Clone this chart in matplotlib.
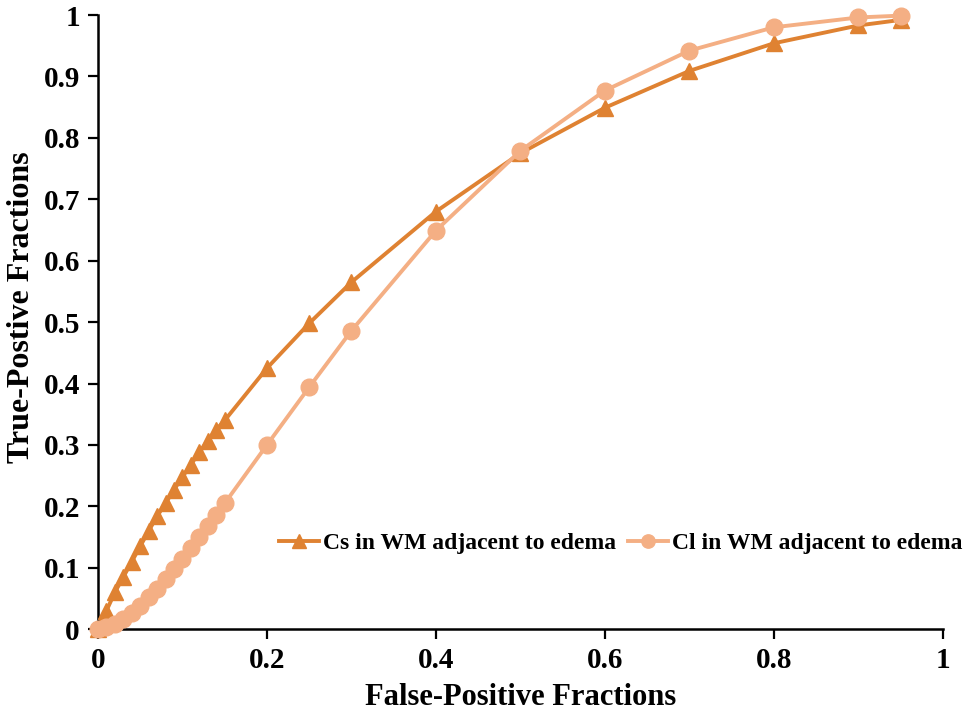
import numpy as np
import matplotlib.pyplot as plt

plt.rcParams['font.family'] = ['Liberation Serif', 'DejaVu Serif']
plt.rcParams['font.weight'] = 'bold'

# false-positive fractions (same for both curves)
fpf = [0, 0.01, 0.02, 0.03, 0.04, 0.05, 0.06, 0.07, 0.08, 0.09, 0.10,
       0.11, 0.12, 0.13, 0.14, 0.15, 0.2, 0.25, 0.3, 0.4, 0.5, 0.6,
       0.7, 0.8, 0.9, 0.95]

# true-positive fractions
tpf_cs = [0, 0.03, 0.06, 0.085, 0.11, 0.135, 0.16, 0.184, 0.205, 0.227, 0.248,
          0.268, 0.288, 0.307, 0.325, 0.340, 0.425, 0.498, 0.565, 0.680, 0.775, 0.849,
          0.909, 0.954, 0.983, 0.992]
tpf_cl = [0, 0.003, 0.008, 0.016, 0.026, 0.038, 0.052, 0.066, 0.082, 0.098, 0.115,
          0.132, 0.150, 0.168, 0.186, 0.205, 0.300, 0.394, 0.486, 0.649, 0.779, 0.877,
          0.942, 0.980, 0.996, 0.999]

lab_cs = 'Cs in WM adjacent to edema'
lab_cl = 'Cl in WM adjacent to edema'

fig = plt.figure(figsize=(9.7, 7.15), dpi=100)
ax = fig.add_axes([0.101, 0.120, 0.871, 0.859])

ax.plot(fpf, tpf_cs, color='#DF8232', lw=2.8, marker='^', ms=12,
        label=lab_cs, clip_on=False, zorder=3)
ax.plot(fpf, tpf_cl, color='#F4AF84', lw=2.8, marker='o', ms=12,
        label=lab_cl, clip_on=False, zorder=4)

ax.set_xlim(0, 1)
ax.set_ylim(0, 1)
ax.set_xticks(np.arange(0, 1.01, 0.2))
ax.set_yticks(np.arange(0, 1.01, 0.1))
ax.set_xticklabels(['0', '0.2', '0.4', '0.6', '0.8', '1'])
ax.set_yticklabels(['0', '0.1', '0.2', '0.3', '0.4', '0.5', '0.6', '0.7', '0.8', '0.9', '1'])
ax.tick_params(direction='out', length=7, width=1.6, labelsize=21, pad=6)

for s in ['top', 'right']:
    ax.spines[s].set_visible(False)
for s in ['left', 'bottom']:
    ax.spines[s].set_linewidth(1.8)

ax.set_xlabel('False-Positive Fractions', fontsize=22, fontweight='bold', labelpad=6)
ax.set_ylabel('True-Postive Fractions', fontsize=23, fontweight='bold')
ax.yaxis.set_label_coords(-0.073, 0.525)

ax.legend(loc='center left', bbox_to_anchor=(0.195, 0.140), ncol=2, frameon=False,
          fontsize=17, handlelength=1.7, handletextpad=0.15, columnspacing=0.5,
          markerscale=0.8, borderpad=0.2)

fig.savefig('out.png', dpi=100)
